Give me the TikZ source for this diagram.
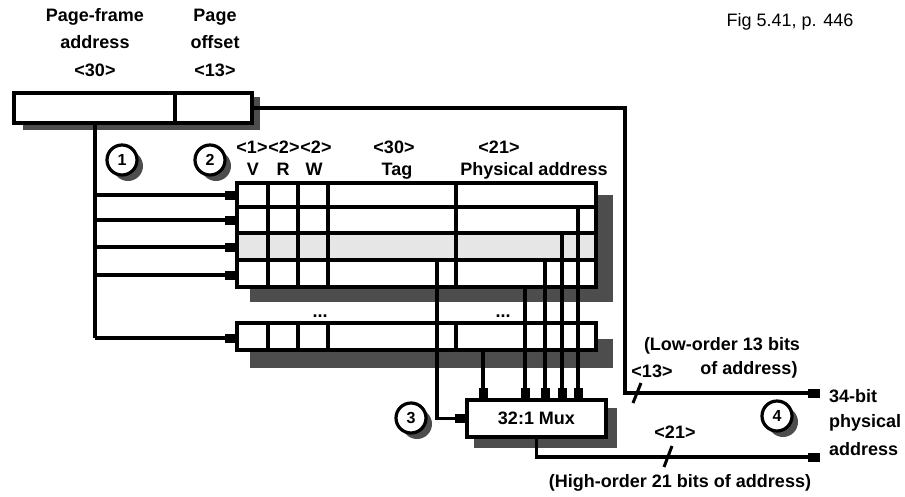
\documentclass[tikz,border=0pt]{standalone}
\usepackage{fontspec}
\setmainfont{Liberation Sans}
\usetikzlibrary{arrows.meta}
\definecolor{shadowgray}{HTML}{4D4D4D}
\definecolor{rowgray}{HTML}{E6E6E6}
\begin{document}
\begin{tikzpicture}[x=1pt,y=-1pt,
  wire/.style={line width=3.2pt},
  boxst/.style={draw,line width=3.2pt,fill=white,inner sep=0pt,outer sep=0pt},
  shade/.style={fill=shadowgray,draw=none},
  lbl/.style={font=\fontsize{18}{20}\selectfont\bfseries,inner sep=0pt,anchor=base},
  lbll/.style={lbl,anchor=base west},
  tipblk/.style={-{Rectangle[length=12pt,width=9pt]}},
  gear/.style={circle,draw,line width=3.2pt,fill=white,minimum size=30pt,inner sep=0pt,font=\fontsize{16}{16}\selectfont\bfseries},
  gearshadow/.style={circle,fill=shadowgray,draw=none,minimum size=30pt,inner sep=0pt}]
\useasboundingbox (0,0) rectangle (905,496);
\fill[white] (0,0) rectangle (905,496);

% shadows
\fill[shade] (23,97) rectangle (260,130);
\fill[shade] (250,195) rectangle (613,302);
\fill[shade] (250,339) rectangle (613,368);
\fill[shade] (474,408) rectangle (617,448);

% top register
\node[boxst,minimum width=238pt,minimum height=30pt] (topreg) at (133,108) {};
\draw[wire] (175,93) -- (175,123);

% TLB
\node[boxst,minimum width=359pt,minimum height=104pt] (tlb) at (416.5,235) {};
\fill[rowgray] (237,233) rectangle (596,260);
\draw[wire] (237,207) -- (596,207) (237,233) -- (596,233) (237,260) -- (596,260);
\draw[wire] (268,183) -- (268,287) (298,183) -- (298,287) (328,183) -- (328,287) (456,183) -- (456,287);
\draw[line width=3.2pt] (tlb.north west) rectangle (tlb.south east);

% last TLB entry
\node[boxst,minimum width=359pt,minimum height=27pt] (tlbrow) at (416.5,336.5) {};
\draw[wire] (268,323) -- (268,350) (298,323) -- (298,350) (328,323) -- (328,350) (456,323) -- (456,350);

% mux
\node[boxst,minimum width=139pt,minimum height=37pt,font=\fontsize{18}{20}\selectfont\bfseries] (mux) at (536.5,418.5) {32:1 Mux};

% page-frame address fan-out
\coordinate (pfTop) at (95,123);
\coordinate (pfBot) at (95,338);
\coordinate (e1) at (95,195);
\coordinate (e2) at (95,220);
\coordinate (e3) at (95,247);
\coordinate (e4) at (95,275);
\draw[wire] (pfTop) -- (pfBot);
\draw[wire,tipblk] (e1) -- (tlb.west |- e1);
\draw[wire,tipblk] (e2) -- (tlb.west |- e2);
\draw[wire,tipblk] (e3) -- (tlb.west |- e3);
\draw[wire,tipblk] (e4) -- (tlb.west |- e4);
\draw[wire,tipblk] (pfBot) -- (tlbrow.west |- pfBot);

% page offset path
\coordinate (po1) at (625,108);
\coordinate (po2) at (625,393);
\coordinate (lowout) at (820,393);
\draw[wire,tipblk] (topreg.east) -- (po1) -- (po2) -- (lowout);

% tag to mux
\coordinate (tagsrc) at (437,260);
\coordinate (tagbend) at (437,418.5);
\draw[wire,tipblk] (tagsrc) -- (tagbend) -- (mux.west);

% physical addresses to mux
\coordinate (pa0) at (483,350);
\coordinate (pa1) at (525,287);
\coordinate (pa2) at (545,260);
\coordinate (pa3) at (562,233);
\coordinate (pa4) at (578,207);
\draw[wire,tipblk] (pa0) -- (mux.north -| pa0);
\draw[wire,tipblk] (pa1) -- (mux.north -| pa1);
\draw[wire,tipblk] (pa2) -- (mux.north -| pa2);
\draw[wire,tipblk] (pa3) -- (mux.north -| pa3);
\draw[wire,tipblk] (pa4) -- (mux.north -| pa4);

% mux output
\coordinate (hibend) at (536.5,457);
\coordinate (hiout) at (820,457);
\draw[wire,tipblk] (mux.south) -- (hibend) -- (hiout);

% bus-width slashes
\draw[line width=3pt] (633,403) -- (641,383);
\draw[line width=3pt] (664,467) -- (672,446);

% gears
\node[gearshadow] (g1s) at (128,166) {};
\node[gear] (g1) at (122,160) {1};
\node[gearshadow] (g2s) at (216,166) {};
\node[gear] (g2) at (210,160) {2};
\node[gearshadow] (g3s) at (417,424) {};
\node[gear] (g3) at (411,418) {3};
\node[gearshadow] (g4s) at (783,422) {};
\node[gear] (g4) at (777,416) {4};

% labels
\node[lbl] (l1a) at (95,21) {Page-frame};
\node[lbl] (l1b) at (95,48) {address};
\node[lbl] (l1c) at (95,76) {<30>};
\node[lbl] (l2a) at (215,21) {Page};
\node[lbl] (l2b) at (215,48) {offset};
\node[lbl] (l2c) at (215,76) {<13>};

\node[lbl] (bv) at (252,153) {<1>};
\node[lbl] (br) at (284,153) {<2>};
\node[lbl] (bw) at (316,153) {<2>};
\node[lbl] (hv) at (253,175) {V};
\node[lbl] (hr) at (283,175) {R};
\node[lbl] (hw) at (314,175) {W};
\node[lbl] (btag) at (394,153) {<30>};
\node[lbl] (htag) at (397,175) {Tag};
\node[lbl] (bpa) at (499,153) {<21>};
\node[lbl] (hpa) at (534,175) {Physical address};

\node[lbl] (dots1) at (320,317) {...};
\node[lbl] (dots2) at (503,317) {...};

\node[lbl] (low1) at (722,350) {(Low-order 13 bits};
\node[lbl] (low2) at (749,374) {of address)};
\node[lbl] (low3) at (652,377) {<13>};
\node[lbll] (out1) at (829,402) {34-bit};
\node[lbll] (out2) at (829,427) {physical};
\node[lbll] (out3) at (829,455) {address};
\node[lbl] (hi1) at (675,438) {<21>};
\node[lbl] (hi2) at (680,487) {(High-order 21 bits of address)};

\node[font=\fontsize{18}{20}\selectfont,inner sep=0pt,anchor=base] (fig) at (790,26) {Fig 5.41, p. 446};
\end{tikzpicture}
\end{document}
